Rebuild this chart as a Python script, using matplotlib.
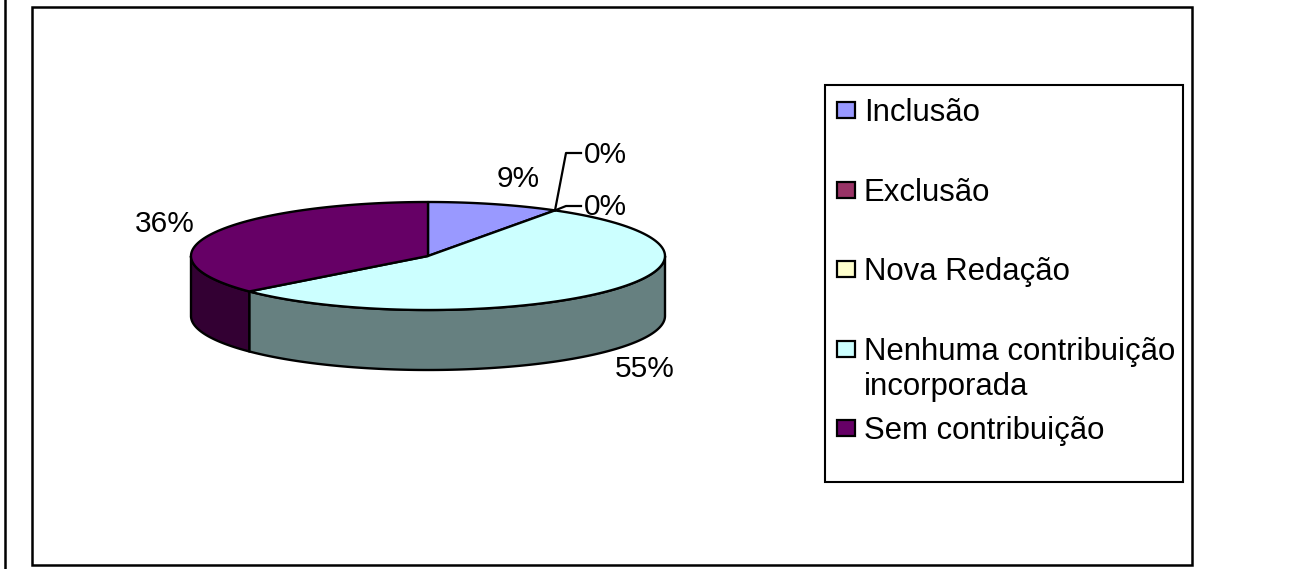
import numpy as np
import matplotlib.pyplot as plt
from matplotlib.patches import Polygon, Rectangle

plt.rcParams['font.family'] = ['Liberation Sans', 'DejaVu Sans']

# Data
categories = ["Inclusão", "Exclusão", "Nova Redação", "Nenhuma contribuição\nincorporada", "Sem contribuição"]
values = [9, 0, 0, 54.6, 36.4]
labels = ["9%", "0%", "0%", "55%", "36%"]
top_colors = ['#9999FF', '#993366', '#FFFFCC', '#CCFFFF', '#660066']
side_colors = ['#4D4D80', '#4D1A33', '#808066', '#668080', '#330033']

# Pie geometry in pixels
cx, cy = 428, 256
rx, ry = 237, 54
depth = 60

fig = plt.figure(figsize=(13.09, 5.69), dpi=100)
ax = fig.add_axes([0, 0, 1, 1])
ax.set_xlim(0, 1309)
ax.set_ylim(569, 0)
ax.axis('off')


def arc(a0, a1, dy=0):
    # angles in degrees, clockwise from 12 o'clock
    t = np.radians(np.linspace(a0, a1, 120))
    return np.column_stack([cx + rx * np.sin(t), cy + dy - ry * np.cos(t)])


# Outer frames
ax.plot([5, 5], [0, 569], color='black', lw=1.8)
ax.add_patch(Rectangle((32, 7), 1160, 558, fc='white', ec='black', lw=1.8))

# Slice angles
edges = np.concatenate([[0], np.cumsum(values)]) / np.sum(values) * 360

# Side walls, only the front half is visible
for i in range(len(values)):
    a0, a1 = max(edges[i], 90), min(edges[i + 1], 270)
    if values[i] == 0 or a1 <= a0:
        continue
    pts = np.vstack([arc(a0, a1), arc(a0, a1, depth)[::-1]])
    ax.add_patch(Polygon(pts, closed=True, fc=side_colors[i], ec='black', lw=1.7, joinstyle='round'))

# Top faces
for i in range(len(values)):
    if values[i] == 0:
        continue
    pts = np.vstack([[cx, cy], arc(edges[i], edges[i + 1])])
    ax.add_patch(Polygon(pts, closed=True, fc=top_colors[i], ec='black', lw=1.7, joinstyle='round'))

# Data labels
label_pos = [(518, 179), (605, 155), (605, 207), (645, 369), (165, 224)]
for lab, (x, y) in zip(labels, label_pos):
    ax.text(x, y, lab, fontsize=21.5, ha='center', va='center', color='black')

# Leader lines for the two 0% labels
apex = arc(edges[1], edges[1] + 0.01)[0]
ax.plot([apex[0], 566, 581], [apex[1], 153, 153], color='black', lw=1.6)
ax.plot([apex[0], 566, 581], [apex[1], 206, 206], color='black', lw=1.6)

# Legend
ax.add_patch(Rectangle((825, 85), 358, 397, fc='white', ec='black', lw=1.5))
legend_y = [110, 190, 269, 349, 428]
for name, col, y in zip(categories, top_colors, legend_y):
    ax.add_patch(Rectangle((837, y - 8), 18, 16, fc=col, ec='black', lw=1.6))
    ax.text(864, y - 12.5, name, fontsize=22.4, ha='left', va='top', color='black', linespacing=1.25)

fig.savefig('out.png', dpi=100, facecolor='white')
